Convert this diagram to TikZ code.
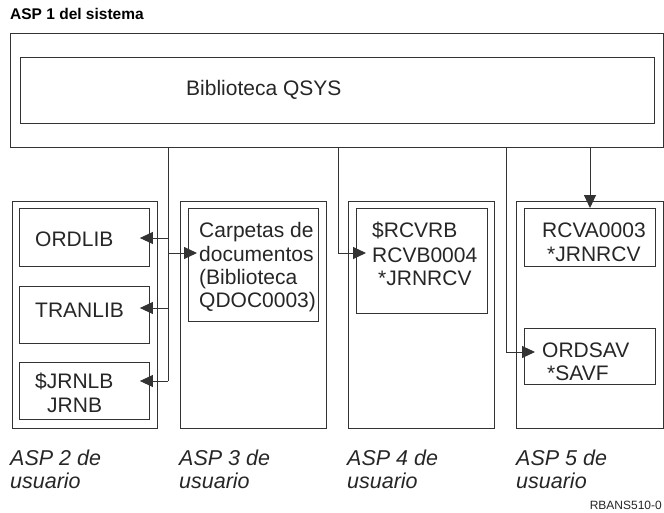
\documentclass[tikz,border=0pt]{standalone}
\usepackage{fontspec}
\setmainfont{Liberation Sans}
\usetikzlibrary{arrows.meta,calc}
\definecolor{ln}{HTML}{333333}
\tikzset{
  box/.style={draw=ln, line width=0.9pt, anchor=north west, inner sep=0pt},
  txt/.style={anchor=base west, inner sep=0pt, font=\fontsize{21}{23}\selectfont, text=black!85},
  lbl/.style={anchor=base west, inner sep=0pt, font=\fontsize{21.5}{23}\selectfont\itshape, text=black!85},
  conn/.style={draw=ln, line width=0.9pt},
  arr/.style={conn, -{Triangle[length=13pt,width=12pt]}},
}
\begin{document}
\begin{tikzpicture}[x=1pt,y=-1pt]
\useasboundingbox (0,0) rectangle (664,512);
% title
\node[anchor=base west, inner sep=0pt, font=\fontsize{15.5}{17}\selectfont\bfseries] (title) at (10,19) {ASP 1 del sistema};
% ASP1
\node[box, minimum width=653pt, minimum height=114pt] (asp1) at (10,33) {};
\node[box, minimum width=634pt, minimum height=66pt] (qsys) at (20,57) {};
\node[txt] (qsyst) at (186,95) {Biblioteca QSYS};
% ASP2
\node[box, minimum width=145pt, minimum height=227pt] (asp2) at (12,201) {};
\node[box, minimum width=130pt, minimum height=58pt] (ordlib) at (19,208) {};
\node[txt] (ordlibt) at (35,246) {ORDLIB};
\node[box, minimum width=130pt, minimum height=57pt] (tranlib) at (19,286) {};
\node[txt] (tranlibt) at (35,317) {TRANLIB};
\node[box, minimum width=130pt, minimum height=57pt] (jrnlb) at (19,362) {};
\node[txt] (jrnlbt1) at (35,388) {\$JRNLB};
\node[txt] (jrnlbt2) at (47,412) {JRNB};
% ASP3
\node[box, minimum width=146pt, minimum height=227pt] (asp3) at (180,201) {};
\node[box, minimum width=130pt, minimum height=113pt] (carp) at (188,208) {};
\node[txt] (carpt1) at (199,237) {Carpetas de};
\node[txt] (carpt2) at (199,261) {documentos};
\node[txt] (carpt3) at (199,284) {(Biblioteca};
\node[txt] (carpt4) at (199,307) {QDOC0003)};
% ASP4
\node[box, minimum width=146pt, minimum height=227pt] (asp4) at (348,201) {};
\node[box, minimum width=131pt, minimum height=105pt] (rcvrb) at (356,208) {};
\node[txt] (rcvrbt1) at (372,237) {\$RCVRB};
\node[txt] (rcvrbt2) at (372,262) {RCVB0004};
\node[txt] (rcvrbt3) at (378,285) {*JRNRCV};
% ASP5
\node[box, minimum width=147pt, minimum height=227pt] (asp5) at (516,201) {};
\node[box, minimum width=131pt, minimum height=58pt] (rcva) at (524,208) {};
\node[txt] (rcvat1) at (542,237) {RCVA0003};
\node[txt] (rcvat2) at (547,261) {*JRNRCV};
\node[box, minimum width=131pt, minimum height=56pt] (ordsav) at (524,328) {};
\node[txt] (ordsavt1) at (542,357) {ORDSAV};
\node[txt] (ordsavt2) at (547,380) {*SAVF};
% connectors
\coordinate (b1) at ($(asp1.south west)+(158,0)$);
\coordinate (b2) at ($(asp1.south west)+(328,0)$);
\coordinate (b3) at ($(asp1.south west)+(496,0)$);
\coordinate (b4) at ($(asp1.south west)+(580,0)$);
\coordinate (j1) at (b1 |- 0,238);
\coordinate (j2) at (b1 |- 0,253);
\coordinate (j3) at (b1 |- 0,308);
\coordinate (j4) at (b1 |- 0,381);
\draw[conn] (b1) -- (j4);
\draw[arr] (j1) -- ([xshift=-10pt]ordlib.east |- j1);
\draw[arr] (j3) -- ([xshift=-10pt]tranlib.east |- j3);
\draw[arr] (j4) -- ([xshift=-10pt]jrnlb.east |- j4);
\draw[arr] (j2) -- ([xshift=9pt]carp.west |- j2);
\coordinate (k2) at (b2 |- 0,253);
\draw[arr] (b2) -- (k2) -- ([xshift=10pt]rcvrb.west |- k2);
\coordinate (k3) at (b3 |- 0,352);
\draw[arr] (b3) -- (k3) -- ([xshift=11pt]ordsav.west |- k3);
\draw[arr] (b4) -- (b4 |- rcva.north);
% bottom labels
\node[lbl] (l2a) at (10,465) {ASP 2 de};
\node[lbl] (l2b) at (10,488) {usuario};
\node[lbl] (l3a) at (179,465) {ASP 3 de};
\node[lbl] (l3b) at (179,488) {usuario};
\node[lbl] (l4a) at (347,465) {ASP 4 de};
\node[lbl] (l4b) at (347,488) {usuario};
\node[lbl] (l5a) at (516,465) {ASP 5 de};
\node[lbl] (l5b) at (516,488) {usuario};
\node[anchor=base east, inner sep=0pt, font=\fontsize{12}{14}\selectfont, text=black!85] (code) at (662,509) {RBANS510-0};
\end{tikzpicture}
\end{document}
